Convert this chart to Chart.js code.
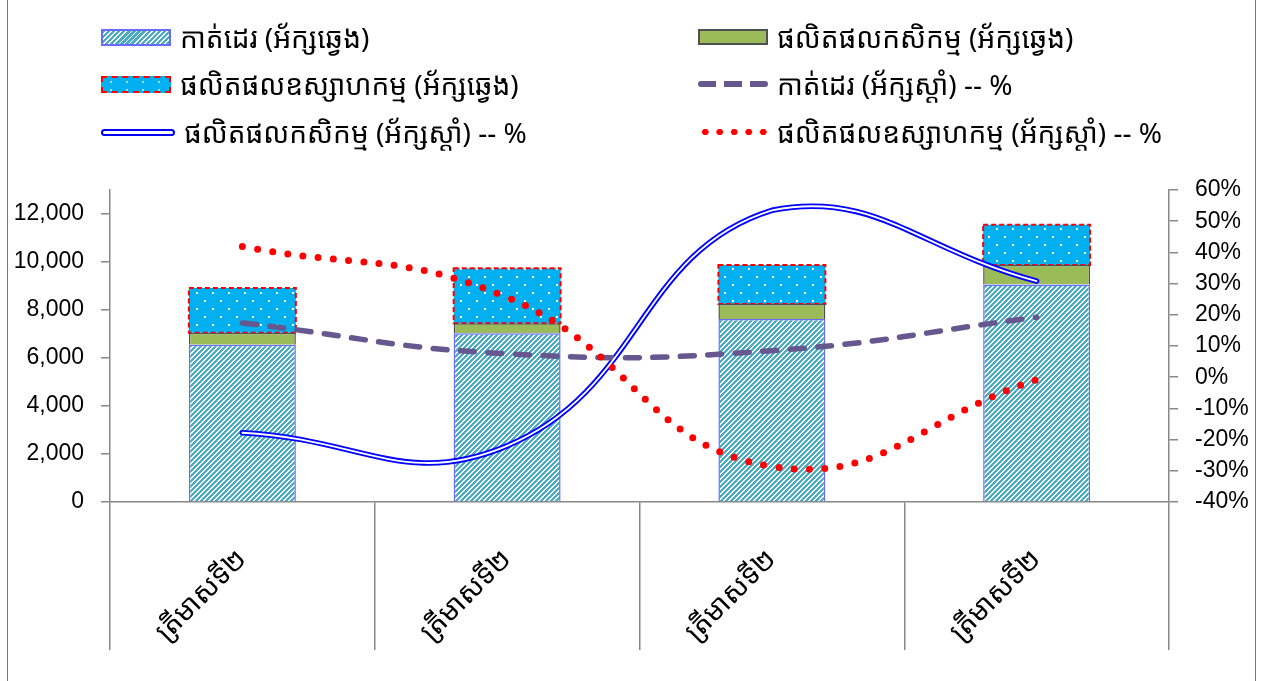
<!DOCTYPE html>
<html>
<head>
<meta charset="utf-8">
<script src="https://cdn.jsdelivr.net/npm/chart.js@4.4.1/dist/chart.umd.min.js"></script>
<style>
  body { margin: 0; background: #fff; overflow: hidden; }
  #wrap { position: relative; width: 1267px; height: 681px; }
  #frame { position: absolute; left: 7px; top: -2px; width: 1247px; height: 700px; border-left: 1.5px solid #777; border-right: 1.5px solid #777; pointer-events: none; }
  #legend { position: absolute; left: 0; top: 0; width: 1267px; height: 170px; font-family: 'Noto Sans Khmer', 'Khmer OS', 'Noto Sans', sans-serif; font-size: 28px; color: #000; }
  .item { position: absolute; height: 40px; display: flex; align-items: center; white-space: nowrap; }
  .sw { width: 70px; margin-right: 9px; flex: none; }
</style>
</head>
<body>
<div id="wrap">
  <canvas id="exportChart" width="1267" height="681"></canvas>
  <div id="legend"></div>
  <div id="frame"></div>
</div>
<script>
// Categories and values
const quarterLabels = ['ត្រីមាសទី២', 'ត្រីមាសទី២', 'ត្រីមាសទី២', 'ត្រីមាសទី២'];
const seriesNames = [
  'កាត់ដេរ (អ័ក្សឆ្វេង)',
  'ផលិតផលកសិកម្ម (អ័ក្សឆ្វេង)',
  'ផលិតផលឧស្សាហកម្ម (អ័ក្សឆ្វេង)',
  'កាត់ដេរ (អ័ក្សស្តាំ) -- %',
  'ផលិតផលកសិកម្ម (អ័ក្សស្តាំ) -- %',
  'ផលិតផលឧស្សាហកម្ម (អ័ក្សស្តាំ) -- %',
];
const garmentValues = [6550, 7030, 7620, 9060];
const agriValues = [500, 420, 630, 820];
const industryValues = [1870, 2290, 1620, 1670];
const garmentPct = [17.4, 7.5, 8.5, 19.2];
const agriPct = [-17.8, -22, 53.5, 30.8];
const industryPct = [41.9, 25.6, -28.6, -0.8];
const leftTicks = [0, 2000, 4000, 6000, 8000, 10000, 12000];
const rightTicks = [-40, -30, -20, -10, 0, 10, 20, 30, 40, 50, 60];

const numFont = "'Liberation Sans', Arial, sans-serif";
const khmerFont = "'Noto Sans Khmer', 'Khmer OS', 'Noto Sans', sans-serif";

// fill patterns
function hatchPattern() {
  const c = document.createElement('canvas');
  c.width = 5; c.height = 5;
  const g = c.getContext('2d');
  g.fillStyle = '#fff';
  g.fillRect(0, 0, 5, 5);
  g.fillStyle = '#4BACC6';
  for (let x = 0; x < 5; x++) {
    for (let y = 0; y < 5; y++) {
      if ((x + y) % 5 < 3) g.fillRect(x, y, 1, 1);
    }
  }
  return g.createPattern(c, 'repeat');
}

function dotPattern() {
  const c = document.createElement('canvas');
  c.width = 16; c.height = 16;
  const g = c.getContext('2d');
  g.fillStyle = '#00B0F0';
  g.fillRect(0, 0, 16, 16);
  g.fillStyle = '#fff';
  g.fillRect(4, 4, 2, 2);
  g.fillRect(12, 12, 2, 2);
  return g.createPattern(c, 'repeat');
}

// red dashed outline round the industry bars
const dashedBorder = {
  id: 'dashedBorder',
  afterDatasetDraw(chart, args) {
    if (args.index !== 2) return;
    const ctx = chart.ctx;
    ctx.save();
    ctx.strokeStyle = '#FF0000';
    ctx.lineWidth = 2;
    ctx.setLineDash([5, 3]);
    args.meta.data.forEach(bar => {
      const p = bar.getProps(['x', 'y', 'base', 'width'], true);
      ctx.strokeRect(p.x - p.width / 2, p.y, p.width, p.base - p.y);
    });
    ctx.restore();
  }
};

const ctx = document.getElementById('exportChart').getContext('2d');
const chart = new Chart(ctx, {
  data: {
    labels: quarterLabels,
    datasets: [
      {
        type: 'bar', label: seriesNames[0], data: garmentValues, yAxisID: 'y', order: 2,
        backgroundColor: hatchPattern(), borderColor: '#6b6bff', borderWidth: 1.5,
      },
      {
        type: 'bar', label: seriesNames[1], data: agriValues, yAxisID: 'y', order: 2,
        backgroundColor: '#9BBB59', borderColor: '#505050', borderWidth: 1.5,
      },
      {
        type: 'bar', label: seriesNames[2], data: industryValues, yAxisID: 'y', order: 2,
        backgroundColor: dotPattern(), borderWidth: 0,
      },
      {
        type: 'line', label: seriesNames[3], data: garmentPct, yAxisID: 'y1', order: 1,
        borderColor: '#67578F', borderWidth: 5.5, borderDash: [14, 13.5], borderCapStyle: 'round',
        tension: 0.45, pointRadius: 0, fill: false,
      },
      {
        type: 'line', label: seriesNames[4], data: agriPct, yAxisID: 'y1', order: 1,
        borderColor: '#0000FF', borderWidth: 5.5, borderCapStyle: 'round',
        tension: 0.45, pointRadius: 0, fill: false,
      },
      {
        type: 'line', label: 'inner', data: agriPct, yAxisID: 'y1', order: 0,
        borderColor: '#FFFFFF', borderWidth: 1.8, borderCapStyle: 'round',
        tension: 0.45, pointRadius: 0, fill: false,
      },
      {
        type: 'line', label: seriesNames[5], data: industryPct, yAxisID: 'y1', order: 0,
        borderColor: '#FF0000', borderWidth: 7, borderDash: [0, 15.3], borderCapStyle: 'round',
        tension: 0.45, pointRadius: 0, fill: false,
      },
    ],
  },
  options: {
    responsive: false,
    animation: false,
    layout: { padding: { top: 190, left: 10, right: 18, bottom: 0 } },
    plugins: {
      legend: { display: false },
      tooltip: { enabled: false },
    },
    datasets: {
      bar: { categoryPercentage: 1, barPercentage: 0.404 },
    },
    scales: {
      x: {
        stacked: true,
        offset: true,
        border: { color: '#888', width: 1.5 },
        grid: { offset: true, drawOnChartArea: false, tickLength: 148, color: '#888', lineWidth: 1.5 },
        ticks: {
          minRotation: 45, maxRotation: 45, padding: -107, autoSkip: false,
          color: '#000', font: { family: khmerFont, size: 28 },
        },
        afterFit: scale => { scale.height = 179; },
      },
      y: {
        stacked: true,
        position: 'left',
        min: 0, max: 13000,
        border: { color: '#888', width: 1.5 },
        grid: { drawOnChartArea: false, tickLength: 9, color: '#888', lineWidth: 1.5 },
        afterBuildTicks: scale => { scale.ticks = leftTicks.map(v => ({ value: v })); },
        ticks: {
          padding: 17, autoSkip: false, color: '#000', font: { family: numFont, size: 23 },
          callback: v => v.toLocaleString('en-US'),
        },
        afterFit: scale => { scale.width = 100; },
      },
      y1: {
        position: 'right',
        min: -40, max: 60,
        border: { color: '#888', width: 1.5 },
        grid: { drawOnChartArea: false, tickLength: 9, color: '#888', lineWidth: 1.5 },
        afterBuildTicks: scale => { scale.ticks = rightTicks.map(v => ({ value: v })); },
        ticks: {
          padding: 17, autoSkip: false, color: '#000', font: { family: numFont, size: 23 },
          callback: v => v + '%',
        },
        afterFit: scale => { scale.width = 80; },
      },
    },
  },
  plugins: [dashedBorder],
});

// legend, two columns of three rows
const swatches = [
  'height:17px; box-sizing:border-box; border:2px solid #6b6bff; background: repeating-linear-gradient(-45deg, #4BACC6 0 2.4px, #fff 2.4px 3.6px);',
  'height:16px; box-sizing:border-box; border:2px solid #505050; background:#9BBB59;',
  'height:17px; box-sizing:border-box; border:2px dashed #f00; background-color:#00B0F0; background-image: radial-gradient(#fff 1px, transparent 1.3px); background-size:16px 8px;',
  'height:6px; background: repeating-linear-gradient(90deg, #67578F 0 18px, transparent 18px 26px); border-radius:3px;',
  'height:3px; border:2px solid #0000FF; border-radius:4px; background:#fff;',
  'height:6px; background: radial-gradient(circle, #f00 3px, transparent 3.5px); background-size:14.5px 6px;',
];
const legendPos = [
  [101, 17], [698, 17], [101, 64], [698, 64], [101, 112], [698, 112],
];
const legendEl = document.getElementById('legend');
legendPos.forEach((pos, s) => {
  const item = document.createElement('div');
  item.className = 'item';
  item.style.left = pos[0] + 'px';
  item.style.top = pos[1] + 'px';
  const sw = document.createElement('div');
  sw.className = 'sw';
  sw.style.cssText += swatches[s];
  const txt = document.createElement('span');
  txt.textContent = seriesNames[s];
  item.appendChild(sw);
  item.appendChild(txt);
  legendEl.appendChild(item);
});
</script>
</body>
</html>
